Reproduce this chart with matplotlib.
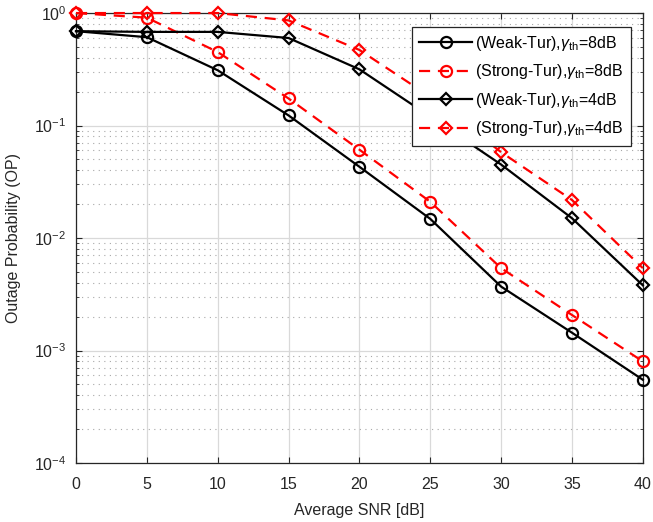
import matplotlib
matplotlib.use("Agg")
import matplotlib.pyplot as plt
from matplotlib.ticker import LogLocator, NullFormatter

plt.rcParams['font.family'] = ['Liberation Sans', 'DejaVu Sans']
plt.rcParams['mathtext.fontset'] = 'custom'
plt.rcParams['mathtext.rm'] = 'Liberation Sans'
plt.rcParams['mathtext.it'] = 'Liberation Sans:italic'

snr = [0, 5, 10, 15, 20, 25, 30, 35, 40]

weak_8db = [0.69, 0.61, 0.31, 0.123, 0.043, 0.0148, 0.0037, 0.00144, 0.00055]
strong_8db = [1.0, 0.91, 0.45, 0.174, 0.061, 0.021, 0.0054, 0.00207, 0.00080]
weak_4db = [0.69, 0.68, 0.68, 0.60, 0.316, 0.12, 0.045, 0.015, 0.0038]
strong_4db = [1.0, 1.0, 1.0, 0.86, 0.47, 0.18, 0.058, 0.0218, 0.0054]

labels = [
    r'(Weak-Tur),$\gamma_{\rm th}$=8dB',
    r'(Strong-Tur),$\gamma_{\rm th}$=8dB',
    r'(Weak-Tur),$\gamma_{\rm th}$=4dB',
    r'(Strong-Tur),$\gamma_{\rm th}$=4dB',
]

fig = plt.figure(figsize=(6.53, 5.22), dpi=100)
ax = fig.add_axes([0.1164, 0.113, 0.868, 0.862])

red = (1.0, 0.0, 0.0)
common = dict(lw=1.6, markeredgewidth=1.6, markerfacecolor='none',
              clip_on=False, zorder=3)
ax.semilogy(snr, weak_8db, '-', color='k', marker='o', markersize=8,
            label=labels[0], **common)
ax.semilogy(snr, strong_8db, '--', color=red, marker='o', markersize=8,
            label=labels[1], dashes=(5, 3.5), **common)
ax.semilogy(snr, weak_4db, '-', color='k', marker='D', markersize=6.5,
            label=labels[2], **common)
ax.semilogy(snr, strong_4db, '--', color=red, marker='D', markersize=6.5,
            label=labels[3], dashes=(5, 3.5), **common)

ax.set_xlim(0, 40)
ax.set_ylim(1e-4, 1)
ax.set_xticks(range(0, 41, 5))
ax.yaxis.set_major_locator(LogLocator(base=10, numticks=10))
ax.yaxis.set_minor_locator(LogLocator(base=10, subs=range(2, 10), numticks=10))
ax.yaxis.set_minor_formatter(NullFormatter())

ax.grid(True, which='major', axis='both', color='#d9d9d9', lw=0.9, ls='-', zorder=0)
ax.grid(True, which='minor', axis='y', color='#a8a8a8', lw=0.8, ls=(0, (1, 4)), zorder=0)
ax.set_axisbelow(True)

ax.tick_params(which='both', direction='in', top=True, right=True,
               labelsize=11.5, colors='#262626', labelcolor='#262626')
ax.tick_params(which='major', length=4.5, width=0.8)
ax.tick_params(axis='x', which='major', pad=10)
ax.tick_params(axis='y', which='major', pad=7)
ax.tick_params(which='minor', length=2.5, width=0.6)
for s in ax.spines.values():
    s.set_color('#262626')
    s.set_linewidth(0.9)

ax.set_xlabel('Average SNR [dB]', fontsize=11.5, color='#262626', labelpad=8)
ax.set_ylabel('Outage Probability (OP)', fontsize=11.5, color='#262626', labelpad=9)

leg = ax.legend(loc='upper right', bbox_to_anchor=(0.9785, 0.97), fontsize=11.5,
                frameon=True, fancybox=False, framealpha=1, edgecolor='#262626',
                handlelength=3.3, handletextpad=0.2, borderpad=0.45,
                labelspacing=0.6, borderaxespad=0)
leg.get_frame().set_linewidth(0.9)

fig.savefig('out.png', dpi=100)
